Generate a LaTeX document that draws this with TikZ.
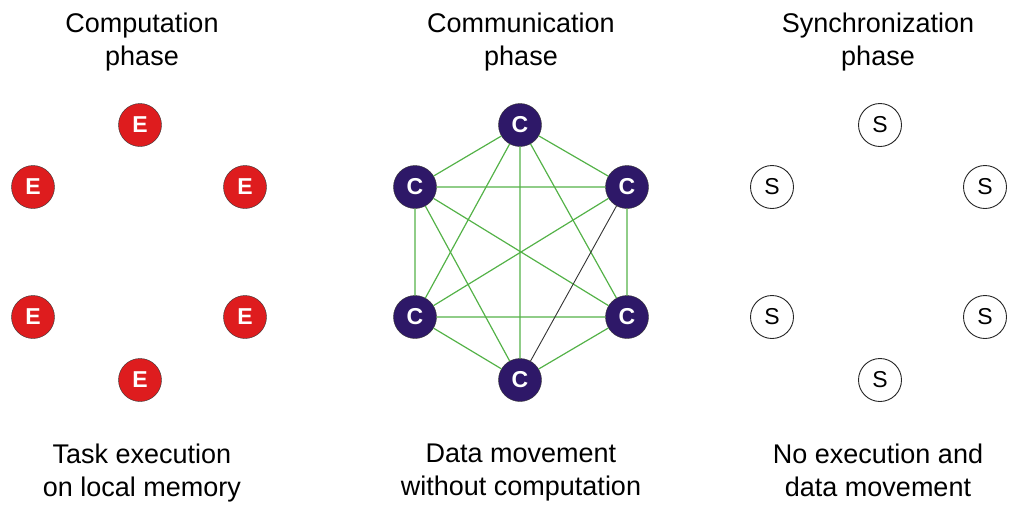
\documentclass[tikz,border=0pt]{standalone}
\usepackage{fontspec}
\setmainfont{Liberation Sans}
\definecolor{exred}{RGB}{222,28,30}
\definecolor{compurple}{RGB}{46,24,104}
\definecolor{linkgreen}{RGB}{84,178,72}
\tikzset{
	phase/.style={align=center, font=\fontsize{27}{33}\selectfont},
	enode/.style={circle, draw=black!80, fill=exred, minimum size=43pt, inner sep=0pt, text=white, font=\fontsize{23}{23}\selectfont\bfseries},
	cnode/.style={circle, draw=black!80, fill=compurple, minimum size=43pt, inner sep=0pt, text=white, font=\fontsize{23}{23}\selectfont\bfseries},
	snode/.style={circle, draw=black!85, fill=white, minimum size=43pt, inner sep=0pt, line width=0.9pt, font=\fontsize{23}{23}\selectfont},
	link/.style={draw=linkgreen, line width=1.2pt}
}
\begin{document}
\begin{tikzpicture}[x=1pt, y=-1pt]
		\useasboundingbox (0,0) rectangle (1024,515);
		
		\node[phase, anchor=north] (comptitle) at (142,9) {Computation\\phase};
		\node[phase, anchor=north] (commtitle) at (521,9) {Communication\\phase};
		\node[phase, anchor=north] (synctitle) at (878,9) {Synchronization\\phase};
		
		\node[enode] (e1) at (140,125) {E};
		\node[enode] (e2) at (33,187) {E};
		\node[enode] (e3) at (245,187) {E};
		\node[enode] (e4) at (33,317) {E};
		\node[enode] (e5) at (245,317) {E};
		\node[enode] (e6) at (140,380) {E};
		
		\node[cnode] (c1) at (520,125) {C};
		\node[cnode] (c2) at (415,187) {C};
		\node[cnode] (c3) at (627,187) {C};
		\node[cnode] (c4) at (415,317) {C};
		\node[cnode] (c5) at (627,317) {C};
		\node[cnode] (c6) at (520,380) {C};
		
		\draw[link] (c1) -- (c2) (c1) -- (c3) (c1) -- (c4) (c1) -- (c5) (c1) -- (c6);
		\draw[link] (c2) -- (c3) (c2) -- (c4) (c2) -- (c5) (c2) -- (c6);
		\draw[link] (c3) -- (c4) (c3) -- (c5);
		\draw[link] (c4) -- (c5) (c4) -- (c6);
		\draw[link] (c5) -- (c6);
		\draw[black!80, line width=0.9pt] (c3) -- (c6);
		
		\node[snode] (s1) at (880,125) {S};
		\node[snode] (s2) at (772,187) {S};
		\node[snode] (s3) at (985,187) {S};
		\node[snode] (s4) at (772,317) {S};
		\node[snode] (s5) at (985,317) {S};
		\node[snode] (s6) at (880,380) {S};
		
		\node[phase, anchor=north] (compnote) at (142,440) {Task execution\\on local memory};
		\node[phase, anchor=north] (commnote) at (521,440) {Data movement\\without computation};
		\node[phase, anchor=north] (syncnote) at (878,440) {No execution and\\data movement};
\end{tikzpicture}
\end{document}
